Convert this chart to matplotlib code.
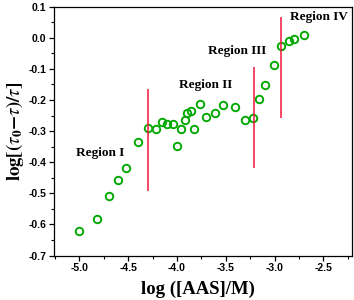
import matplotlib
matplotlib.use("Agg")
import matplotlib.pyplot as plt
from matplotlib.ticker import MultipleLocator, FormatStrFormatter

log_conc = [-5.0, -4.822, -4.699, -4.603, -4.518, -4.402, -4.30, -4.22, -4.156, -4.098,
            -4.037, -4.002, -3.96, -3.916, -3.899, -3.855, -3.827, -3.76, -3.70, -3.606,
            -3.527, -3.404, -3.305, -3.223, -3.155, -3.094, -3.002, -2.93, -2.855, -2.797, -2.701]
log_ratio = [-0.621, -0.581, -0.509, -0.456, -0.418, -0.335, -0.289, -0.294, -0.270, -0.278,
             -0.278, -0.348, -0.294, -0.265, -0.241, -0.236, -0.292, -0.214, -0.255, -0.241,
             -0.216, -0.221, -0.265, -0.257, -0.198, -0.152, -0.089, -0.027, -0.009, -0.005, 0.009]

boundary_x = [-4.296, -3.207, -2.934]
boundary_ymin = [-0.494, -0.42, -0.259]
boundary_ymax = [-0.166, -0.094, 0.067]

region_labels = ["Region I", "Region II", "Region III", "Region IV"]
region_x = [-5.03, -3.98, -3.68, -2.84]
region_y = [-0.369, -0.152, -0.043, 0.068]

plt.rcParams['mathtext.fontset'] = 'stix'

fig = plt.figure(figsize=(3.54, 3.0), dpi=100)
ax = fig.add_axes([0.1525, 0.148, 0.8410, 0.830])

ax.plot(log_conc, log_ratio, linestyle='none', marker='o', markersize=5.4,
        markerfacecolor='none', markeredgecolor='#00A800', markeredgewidth=1.35)
ax.vlines(boundary_x, boundary_ymin, boundary_ymax, colors='#F5143C', linewidth=1.1)

for lab, x, y in zip(region_labels, region_x, region_y):
    ax.text(x, y, lab, fontsize=9.5, fontweight='bold', family='Liberation Serif',
            ha='left', va='center')

ax.set_xlim(-5.26, -2.21)
ax.set_ylim(-0.7, 0.1)
ax.xaxis.set_major_locator(MultipleLocator(0.5))
ax.xaxis.set_minor_locator(MultipleLocator(0.25))
ax.yaxis.set_major_locator(MultipleLocator(0.1))
ax.yaxis.set_minor_locator(MultipleLocator(0.05))
ax.xaxis.set_major_formatter(FormatStrFormatter('%.1f'))
ax.yaxis.set_major_formatter(FormatStrFormatter('%.1f'))

ax.tick_params(which='major', direction='out', length=3.5, width=0.9, pad=2,
               labelsize=7.5)
ax.tick_params(which='minor', direction='out', length=2, width=0.8)
for lbl in ax.get_xticklabels() + ax.get_yticklabels():
    lbl.set_fontweight('bold')
    lbl.set_family('Liberation Sans')
for sp in ax.spines.values():
    sp.set_linewidth(0.9)

ax.set_xlabel('log ([AAS]/M)', fontsize=13.5, fontweight='bold', family='Liberation Serif')
ax.xaxis.set_label_coords(0.484, -0.1, transform=ax.transAxes)
ax.xaxis.label.set_va('top')
ax.set_ylabel(r'$\mathbf{log[(}\mathit{\tau}_{\mathbf{0}}\mathbf{-}\mathit{\tau}\mathbf{)/}\mathit{\tau}\mathbf{]}$',
              fontsize=13.5, labelpad=2)

fig.savefig('out.png', dpi=100)
